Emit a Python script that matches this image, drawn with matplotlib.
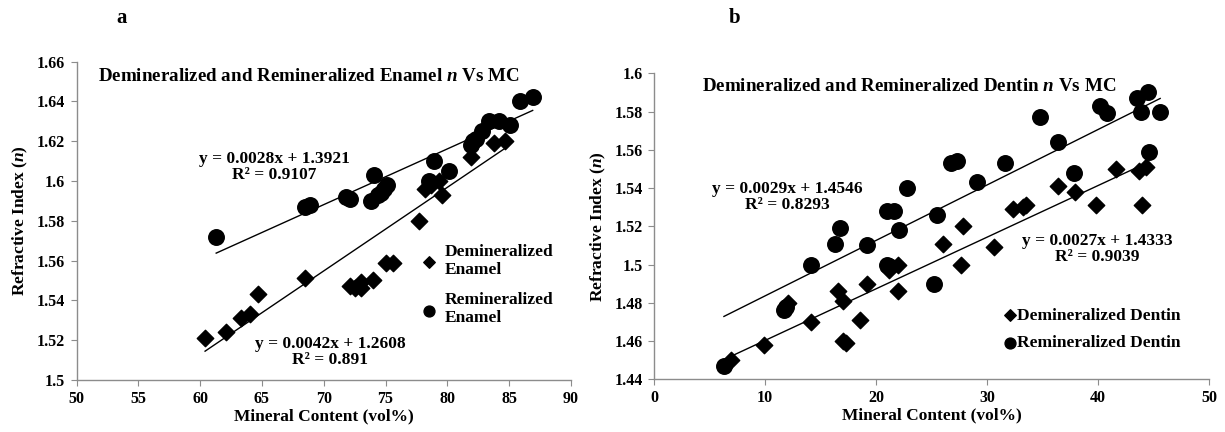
import numpy as np
import matplotlib
matplotlib.use("Agg")
import matplotlib.pyplot as plt

plt.rcParams['font.family'] = ['Liberation Serif', 'DejaVu Serif']
plt.rcParams['font.weight'] = 'bold'
plt.rcParams['mathtext.fontset'] = 'custom'
plt.rcParams['mathtext.it'] = 'Liberation Serif:bold:italic'
plt.rcParams['mathtext.rm'] = 'Liberation Serif:bold'

# ===== DATA =====
# Panel a: enamel
enamel_demin_x = [60.4, 62.1, 63.3, 64.0, 64.7, 68.5, 72.1, 72.5, 73.0, 73.0, 74.0, 75.0,
                  75.6, 77.7, 78.2, 78.7, 79.3, 79.6, 81.9, 83.8, 84.7]
enamel_demin_y = [1.521, 1.524, 1.531, 1.533, 1.543, 1.551, 1.547, 1.546, 1.549, 1.546, 1.550, 1.559,
                  1.559, 1.580, 1.596, 1.598, 1.600, 1.593, 1.612, 1.619, 1.620]
enamel_remin_x = [61.3, 68.5, 68.9, 71.8, 72.1, 73.8, 74.1, 74.4, 74.6, 74.9, 75.1, 78.5,
                  78.9, 80.1, 81.9, 82.1, 82.3, 82.8, 83.4, 84.2, 85.1, 85.9, 86.9]
enamel_remin_y = [1.572, 1.587, 1.588, 1.592, 1.591, 1.590, 1.603, 1.593, 1.594, 1.596, 1.598, 1.600,
                  1.610, 1.605, 1.618, 1.620, 1.621, 1.625, 1.630, 1.630, 1.628, 1.640, 1.642]
enamel_demin_fit = (0.0042, 1.2608, "0.891")
enamel_remin_fit = (0.0028, 1.3921, "0.9107")

# Panel b: dentin
dentin_demin_x = [6.9, 9.9, 12.1, 14.1, 16.6, 17.0, 17.0, 17.3, 18.6, 19.2, 21.2, 22.0, 22.0,
                  26.0, 27.7, 27.8, 30.6, 32.3, 33.2, 33.5, 36.4, 37.9, 39.8, 41.6, 43.7, 44.0, 44.3]
dentin_demin_y = [1.450, 1.458, 1.480, 1.470, 1.486, 1.481, 1.460, 1.459, 1.471, 1.490, 1.497, 1.500, 1.486,
                  1.511, 1.500, 1.520, 1.509, 1.529, 1.530, 1.531, 1.541, 1.538, 1.531, 1.550, 1.549, 1.531, 1.551]
dentin_remin_x = [6.3, 11.7, 11.9, 14.1, 16.3, 16.8, 19.2, 21.0, 21.2, 21.0, 21.6, 22.1, 22.8,
                  25.2, 25.5, 26.8, 27.3, 29.1, 31.6, 34.8, 36.4, 37.8, 40.2, 40.8, 43.5, 43.9,
                  44.5, 44.6, 45.6]
dentin_remin_y = [1.447, 1.476, 1.478, 1.500, 1.511, 1.519, 1.510, 1.500, 1.499, 1.528, 1.528, 1.518, 1.540,
                  1.490, 1.526, 1.553, 1.554, 1.543, 1.553, 1.577, 1.564, 1.548, 1.583, 1.579, 1.587, 1.580,
                  1.590, 1.559, 1.580]
dentin_demin_fit = (0.0027, 1.4333, "0.9039")
dentin_remin_fit = (0.0029, 1.4546, "0.8293")

W, H = 1225, 432
fig = plt.figure(figsize=(W / 100, H / 100), dpi=100)
GRAY = '#8c8c8c'


def px_axes(x0, x1, ytop, ybot):
    return fig.add_axes([x0 / W, (H - ybot) / H, (x1 - x0) / W, (ybot - ytop) / H])


def style_axes(ax):
    for s in ['top', 'right']:
        ax.spines[s].set_visible(False)
    for s in ['left', 'bottom']:
        ax.spines[s].set_color(GRAY)
        ax.spines[s].set_linewidth(1.0)
    ax.tick_params(direction='out', color=GRAY, length=4, labelsize=11.5)
    ax.tick_params(axis='y', pad=4)
    ax.tick_params(axis='x', pad=4)
    for lab in ax.get_xticklabels() + ax.get_yticklabels():
        lab.set_fontweight('bold')


def trend(ax, xs, fit):
    m, b, _ = fit
    xx = np.array([min(xs), max(xs)])
    ax.plot(xx, m * xx + b, color='black', linewidth=1.0)


def eq_text(fit):
    m, b, r2 = fit
    return f"y = {m:.4f}x + {b:.4f}\nR² = {r2}"


# ---- Panel a ----
ax1 = px_axes(76.5, 571, 61.5, 380)
ax1.scatter(enamel_demin_x, enamel_demin_y, marker='D', s=70, color='black', zorder=3,
            label="Demineralized\nEnamel")
ax1.scatter(enamel_remin_x, enamel_remin_y, marker='o', s=125, color='black', zorder=3,
            label="Remineralized\nEnamel")
trend(ax1, enamel_demin_x, enamel_demin_fit)
trend(ax1, enamel_remin_x, enamel_remin_fit)
ax1.set_xlim(50, 90)
ax1.set_ylim(1.5, 1.66)
ax1.set_xticks(np.arange(50, 91, 5))
ax1.set_yticks(np.arange(1.5, 1.661, 0.02))
ax1.set_yticklabels(["1.5", "1.52", "1.54", "1.56", "1.58", "1.6", "1.62", "1.64", "1.66"])
style_axes(ax1)
ax1.set_xlabel("Mineral Content (vol%)", fontsize=12.5, fontweight='bold', labelpad=1)
ax1.set_ylabel(r"Refractive Index ($n$)", fontsize=12.5, fontweight='bold', labelpad=5)
ax1.text(68.8, 1.6525, r"Demineralized and Remineralized Enamel $n$ Vs MC",
         ha='center', va='center', fontsize=13.7, fontweight='bold')
ax1.text(66.0, 1.607, eq_text(enamel_remin_fit),
         ha='center', va='center', fontsize=12.5, fontweight='bold', linespacing=1.0)
ax1.text(70.5, 1.5143, eq_text(enamel_demin_fit),
         ha='center', va='center', fontsize=12.5, fontweight='bold', linespacing=1.0)
ax1.legend(loc='upper left', bbox_to_anchor=(77.8, 1.5685), bbox_transform=ax1.transData,
           frameon=False, prop={'weight': 'bold', 'size': 12.5}, handlelength=1.0,
           handletextpad=0.4, labelspacing=0.8, markerscale=0.7, borderpad=0, borderaxespad=0)

# ---- Panel b ----
ax2 = px_axes(654, 1209, 73.3, 379.3)
ax2.scatter(dentin_demin_x, dentin_demin_y, marker='D', s=70, color='black', zorder=3,
            label="Demineralized Dentin")
ax2.scatter(dentin_remin_x, dentin_remin_y, marker='o', s=125, color='black', zorder=3,
            label="Remineralized Dentin")
trend(ax2, dentin_demin_x, dentin_demin_fit)
trend(ax2, dentin_remin_x, dentin_remin_fit)
ax2.set_xlim(0, 50)
ax2.set_ylim(1.44, 1.6)
ax2.set_xticks(np.arange(0, 51, 10))
ax2.set_yticks(np.arange(1.44, 1.601, 0.02))
ax2.set_yticklabels(["1.44", "1.46", "1.48", "1.5", "1.52", "1.54", "1.56", "1.58", "1.6"])
style_axes(ax2)
ax2.set_xlabel("Mineral Content (vol%)", fontsize=12.5, fontweight='bold', labelpad=1)
ax2.set_ylabel(r"Refractive Index ($n$)", fontsize=12.5, fontweight='bold', labelpad=5)
ax2.text(22.95, 1.593, r"Demineralized and Remineralized Dentin $n$ Vs MC",
         ha='center', va='center', fontsize=13.7, fontweight='bold')
ax2.text(12.0, 1.5352, eq_text(dentin_remin_fit),
         ha='center', va='center', fontsize=12.5, fontweight='bold', linespacing=1.0)
ax2.text(39.9, 1.5083, eq_text(dentin_demin_fit),
         ha='center', va='center', fontsize=12.5, fontweight='bold', linespacing=1.0)
ax2.legend(loc='upper left', bbox_to_anchor=(31.7, 1.4775), bbox_transform=ax2.transData,
           frameon=False, prop={'weight': 'bold', 'size': 12.5}, handlelength=0.5,
           handletextpad=0.15, labelspacing=0.65, markerscale=0.7, borderpad=0, borderaxespad=0)

# panel letters
fig.text(122 / W, 1 - 18 / H, "a", fontsize=15, fontweight='bold', ha='center', va='center')
fig.text(735 / W, 1 - 18 / H, "b", fontsize=15, fontweight='bold', ha='center', va='center')

fig.savefig("out.png", dpi=100)
